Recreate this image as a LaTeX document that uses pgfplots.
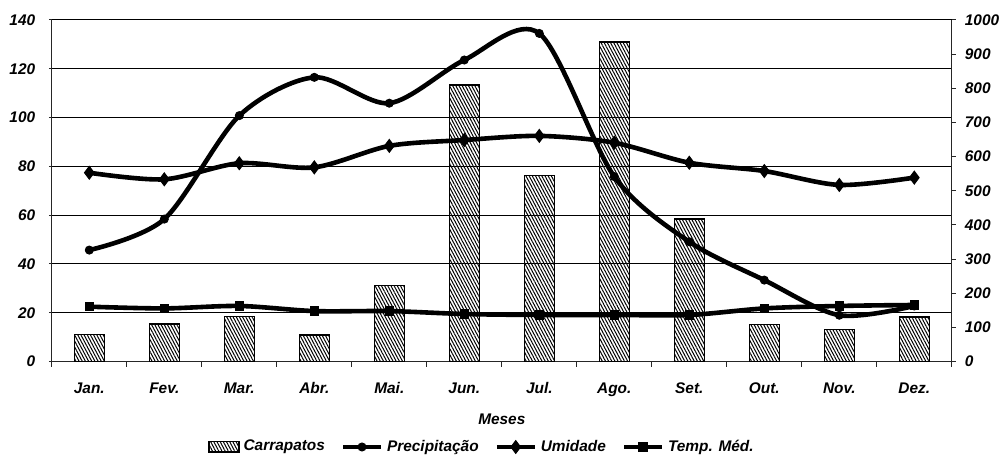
\documentclass[border=0pt]{standalone}
\usepackage{fontspec}
\setmainfont{Liberation Sans}
\usepackage{pgfplots}
\pgfplotsset{compat=1.18}
\usetikzlibrary{patterns.meta}
\pgfplotsset{
  linelegend/.style={legend image code/.code={\draw[mark repeat=2,mark phase=2,##1] plot coordinates {(0cm,0cm) (0.33cm,0cm) (0.66cm,0cm)};}},
  barlegend/.style={legend image code/.code={\draw[##1] (0pt,-2.6pt) rectangle (15pt,2.6pt);}},
}

\begin{document}
\begin{tikzpicture}[font=\fontsize{7.7}{9}\selectfont\bfseries\itshape]
\begin{axis}[
  scale only axis, width=450pt, height=170.8pt,
  at={(0,0)}, anchor=south west,
  xmin=-0.5, xmax=11.5, ymin=0, ymax=140,
  axis x line*=bottom, axis y line*=left,
  axis line style={-, black!85, line width=0.6pt},
  ytick={0,20,...,140},
  ymajorgrids, grid style={black, line width=0.5pt},
  xtick={0,...,11},
  xticklabels={Jan.,Fev.,Mar.,Abr.,Mai.,Jun.,Jul.,Ago.,Set.,Out.,Nov.,Dez.},
  minor xtick={-0.5,0.5,...,11.5},
  tick align=outside,
  major x tick style={draw=none},
  minor tick length=2.5pt,
  major tick length=1.5pt,
  tick style={black!85, line width=0.5pt},
  /pgf/number format/assume math mode=true,
  yticklabel style={xshift=-3.3pt},
  xticklabel style={yshift=-5.5pt},
  xlabel={Meses},
  xlabel style={at={(axis description cs:0.5,-0.168)}, anchor=center},
  legend columns=-1,
  legend style={draw=none, at={(0.479,-0.25)}, anchor=center,
    /tikz/every even column/.append style={column sep=6pt},
    font=\fontsize{7.7}{9}\selectfont\bfseries\itshape},
  linelegend,
]
\addplot[ybar, bar width=15pt, draw=black, line width=0.7pt,
  pattern={Lines[angle=-62,distance=1.4pt,line width=0.5pt]}, barlegend]
  coordinates {(0,11.2) (1,15.4) (2,18.4) (3,10.9) (4,31.1) (5,113.4) (6,76.2) (7,130.9) (8,58.4) (9,15.3) (10,13.2) (11,18.2)};
\addlegendentry{Carrapatos}
\addplot[smooth, black, line width=2.3pt, mark=*, mark size=2pt, mark options={solid, line width=0.5pt}]
  coordinates {(0,45.7) (1,58.4) (2,100.8) (3,116.5) (4,105.9) (5,123.6) (6,134.5) (7,75.8) (8,49.1) (9,33.4) (10,19) (11,22.8)};
\addlegendentry{Precipitação}
\addplot[smooth, black, line width=2.3pt, mark=diamond*, mark size=3.2pt, mark options={solid, line width=0.5pt}]
  coordinates {(0,77.4) (1,74.7) (2,81.3) (3,79.6) (4,88.4) (5,90.8) (6,92.5) (7,89.7) (8,81.5) (9,78.1) (10,72.4) (11,75.4)};
\addlegendentry{Umidade}
\addplot[smooth, black, line width=2.3pt, mark=square*, mark size=2.1pt, mark options={solid, line width=0.5pt}]
  coordinates {(0,22.5) (1,21.8) (2,22.8) (3,20.7) (4,20.7) (5,19.5) (6,19.1) (7,19.1) (8,19.1) (9,21.8) (10,22.8) (11,23.2)};
\addlegendentry{Temp. Méd.}
\end{axis}
\begin{axis}[
  scale only axis, width=450pt, height=170.8pt,
  at={(0,0)}, anchor=south west,
  xmin=-0.5, xmax=11.5, ymin=0, ymax=1000,
  axis x line=none, axis y line*=right,
  axis line style={-, black!85, line width=0.6pt},
  ytick={0,100,...,1000},
  tick align=outside, major tick length=2pt,
  tick style={black!85, line width=0.5pt},
  /pgf/number format/assume math mode=true,
  /pgf/number format/1000 sep={},
  yticklabel style={xshift=1pt},
]
\addplot[draw=none] coordinates {(0,0)};
\end{axis}
\pgfresetboundingbox
\path (-25.9pt,-53.7pt) rectangle (474.6pt,180.8pt);
\end{tikzpicture}
\end{document}
